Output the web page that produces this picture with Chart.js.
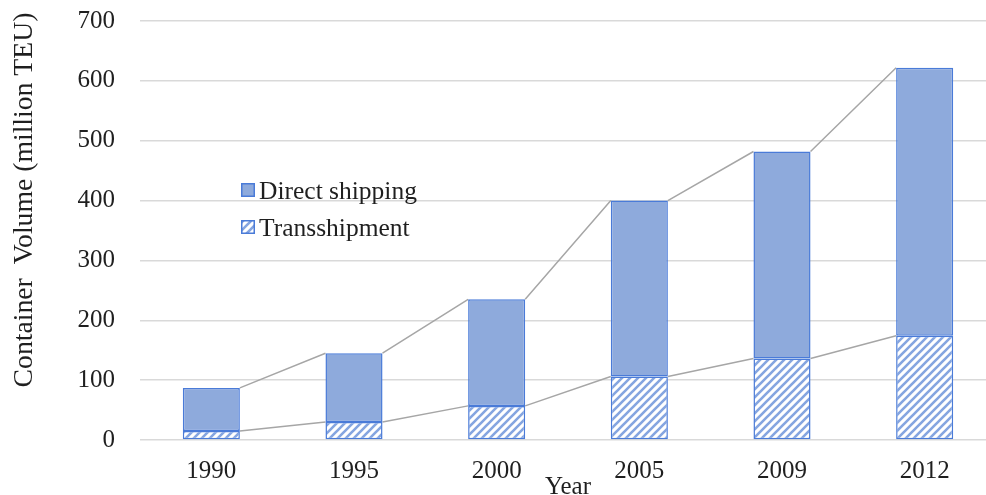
<!DOCTYPE html>
<html>
<head>
<meta charset="utf-8">
<script src="https://cdn.jsdelivr.net/npm/chart.js@4/dist/chart.umd.min.js"></script>
<style>
  html, body { margin: 0; padding: 0; background: #fff; overflow: hidden; }
  #wrap { width: 996px; height: 495px; overflow: hidden; }
</style>
</head>
<body>
<div id="wrap"><canvas id="c" width="996" height="506"></canvas></div>
<script>
// Container traffic by year, million TEU
const years = ['1990', '1995', '2000', '2005', '2009', '2012'];
const transshipment = [15, 30, 57, 106, 136, 174];
const directShipping = [72, 115, 178, 294, 346, 448];
const yTicks = [0, 100, 200, 300, 400, 500, 600, 700];

const yTitle = 'Container  Volume (million TEU)';
const xTitle = 'Year';

const FONT = '"Liberation Serif", "Times New Roman", serif';
const TEXT = '#1f1f1f';
const FILL = '#8eaadc';
const EDGE = '#4a7bd8';
const STRIPE = '#85a5e0';

// Diagonal "///" hatch used for the transshipment segments
function hatch(color, bg) {
  const s = 8;
  const c = document.createElement('canvas');
  c.width = s; c.height = s;
  const g = c.getContext('2d');
  g.fillStyle = bg;
  g.fillRect(0, 0, s, s);
  g.strokeStyle = color;
  g.lineWidth = 2.6;
  g.beginPath();
  g.moveTo(0, s); g.lineTo(s, 0);
  g.moveTo(-s / 2, s / 2); g.lineTo(s / 2, -s / 2);
  g.moveTo(s / 2, s * 1.5); g.lineTo(s * 1.5, s / 2);
  g.stroke();
  return g.createPattern(c, 'repeat');
}
const hatchFill = hatch(STRIPE, '#ffffff');

// Grey connectors between the tops of neighbouring stacks
const seriesLines = {
  id: 'seriesLines',
  beforeDatasetsDraw(chart) {
    const ctx = chart.ctx;
    ctx.save();
    ctx.strokeStyle = '#a6a6a6';
    ctx.lineWidth = 1.5;
    chart.data.datasets.forEach((ds, di) => {
      const bars = chart.getDatasetMeta(di).data;
      ctx.beginPath();
      for (let i = 0; i < bars.length - 1; i++) {
        const a = bars[i], b = bars[i + 1];
        ctx.moveTo(a.x + a.width / 2, a.y);
        ctx.lineTo(b.x - b.width / 2, b.y);
      }
      ctx.stroke();
    });
    ctx.restore();
  }
};

// Axis titles and the in-plot legend
const annotations = {
  id: 'annotations',
  afterDraw(chart) {
    const ctx = chart.ctx;
    const area = chart.chartArea;
    ctx.save();
    ctx.fillStyle = TEXT;

    // y-axis title
    ctx.save();
    ctx.translate(32, 200);
    ctx.rotate(-Math.PI / 2);
    ctx.font = '27.7px ' + FONT;
    ctx.textAlign = 'center';
    ctx.textBaseline = 'alphabetic';
    ctx.fillText(yTitle, 0, 0);
    ctx.restore();

    // x-axis title
    ctx.font = '25px ' + FONT;
    ctx.textAlign = 'center';
    ctx.textBaseline = 'alphabetic';
    ctx.fillText(xTitle, (area.left + area.right) / 2, 494);

    // legend: Direct shipping first, then Transshipment
    const entries = [chart.data.datasets[1], chart.data.datasets[0]];
    const rows = [183, 220];
    ctx.font = '25.5px ' + FONT;
    ctx.textAlign = 'left';
    entries.forEach((ds, i) => {
      const y = rows[i];
      ctx.fillStyle = ds.backgroundColor;
      ctx.fillRect(241, y, 14, 14);
      ctx.strokeStyle = EDGE;
      ctx.lineWidth = 1.5;
      ctx.strokeRect(241.75, y + 0.75, 12.5, 12.5);
      ctx.fillStyle = TEXT;
      ctx.fillText(ds.label, 259, y + 15.5);
    });
    ctx.restore();
  }
};

new Chart(document.getElementById('c'), {
  type: 'bar',
  data: {
    labels: years,
    datasets: [
      {
        label: 'Transshipment',
        data: transshipment,
        backgroundColor: hatchFill,
        borderColor: EDGE,
        borderWidth: 1.5,
        borderSkipped: false
      },
      {
        label: 'Direct shipping',
        data: directShipping,
        backgroundColor: FILL,
        borderColor: EDGE,
        borderWidth: 1.5,
        borderSkipped: false
      }
    ]
  },
  options: {
    responsive: false,
    devicePixelRatio: 1,
    animation: false,
    layout: { padding: { left: 52.5, top: 21, right: 0, bottom: 4 } },
    datasets: { bar: { categoryPercentage: 1, barPercentage: 0.4 } },
    plugins: {
      legend: { display: false },
      tooltip: { enabled: false }
    },
    scales: {
      x: {
        stacked: true,
        grid: { display: false, drawTicks: false },
        border: { display: false },
        ticks: { font: { family: FONT, size: 25 }, color: TEXT, padding: 16 }
      },
      y: {
        stacked: true,
        min: yTicks[0],
        max: yTicks[yTicks.length - 1],
        afterBuildTicks(scale) { scale.ticks = yTicks.map(v => ({ value: v })); },
        // keep only half a label of head room above the top tick
        afterFit(scale) { scale.paddingTop = 15; },
        grid: { color: '#d9d9d9', lineWidth: 1.5, drawTicks: false },
        border: { display: false },
        ticks: { font: { family: FONT, size: 25 }, color: TEXT, padding: 25 }
      }
    }
  },
  plugins: [seriesLines, annotations]
});
</script>
</body>
</html>
